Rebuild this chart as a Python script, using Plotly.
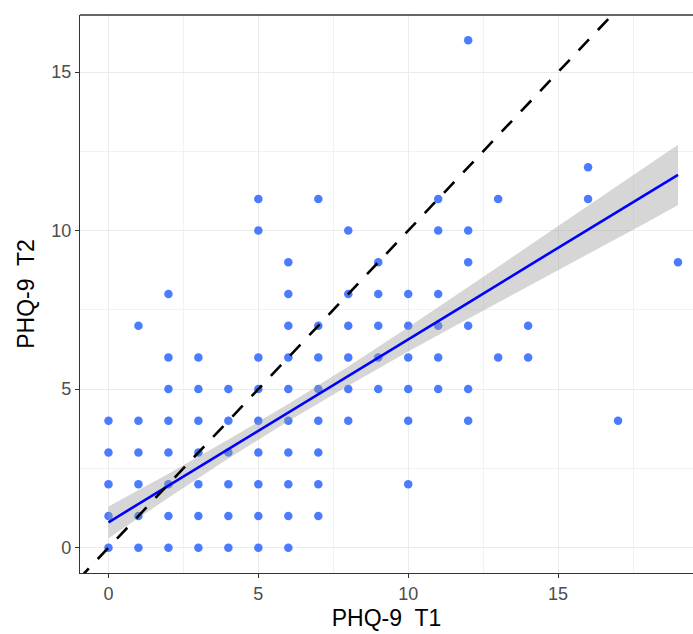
import plotly.graph_objects as go

# ---- data ----
t1 = [0, 0, 0, 0, 0,
      1, 1, 1, 1, 1, 1,
      2, 2, 2, 2, 2, 2, 2, 2,
      3, 3, 3, 3, 3, 3, 3,
      4, 4, 4, 4, 4, 4,
      5, 5, 5, 5, 5, 5, 5, 5, 5,
      6, 6, 6, 6, 6, 6, 6, 6, 6, 6,
      7, 7, 7, 7, 7, 7, 7, 7,
      8, 8, 8, 8, 8, 8,
      9, 9, 9, 9, 9,
      10, 10, 10, 10, 10, 10,
      11, 11, 11, 11, 11, 11,
      12, 12, 12, 12, 12, 12,
      13, 13,
      14, 14,
      16, 16,
      17,
      19]
t2 = [0, 1, 2, 3, 4,
      0, 1, 2, 3, 4, 7,
      0, 1, 2, 3, 4, 5, 6, 8,
      0, 1, 2, 3, 4, 5, 6,
      0, 1, 2, 3, 4, 5,
      0, 1, 2, 3, 4, 5, 6, 10, 11,
      0, 1, 2, 3, 4, 5, 6, 7, 8, 9,
      1, 2, 3, 4, 5, 6, 7, 11,
      4, 5, 6, 7, 8, 10,
      5, 6, 7, 8, 9,
      2, 4, 5, 6, 7, 8,
      5, 6, 7, 8, 10, 11,
      4, 5, 7, 9, 10, 16,
      6, 11,
      6, 7,
      11, 12,
      4,
      9]

fit_x = [0, 2, 4, 6, 8, 10, 12, 14, 16, 18, 19]
fit_y = [0.80, 1.95, 3.11, 4.26, 5.41, 6.57, 7.72, 8.88, 10.03, 11.18, 11.76]
band_lower = [0.30, 1.57, 2.81, 3.99, 5.11, 6.19, 7.22, 8.25, 9.26, 10.28, 10.81]
band_upper = [1.30, 2.33, 3.41, 4.53, 5.71, 6.95, 8.22, 9.51, 10.80, 12.08, 12.71]

identity_x = [-1, 20]
identity_y = [-1, 20]

x_ticks = [0, 5, 10, 15]
y_ticks = [0, 5, 10, 15]
x_minor = [2.5, 7.5, 12.5, 17.5]
y_minor = [2.5, 7.5, 12.5]

fig = go.Figure()
fig.add_trace(go.Scatter(x=t1, y=t2, mode="markers",
                         marker=dict(color="#4B7BFF", size=8.5, line=dict(width=0)),
                         showlegend=False, hoverinfo="x+y"))
fig.add_trace(go.Scatter(x=fit_x, y=band_lower, mode="lines",
                         line=dict(width=0), showlegend=False, hoverinfo="skip"))
fig.add_trace(go.Scatter(x=fit_x, y=band_upper, mode="lines", fill="tonexty",
                         fillcolor="rgba(153,153,153,0.4)",
                         line=dict(width=0), showlegend=False, hoverinfo="skip"))
fig.add_trace(go.Scatter(x=fit_x, y=fit_y, mode="lines",
                         line=dict(color="#0000FF", width=2.6),
                         showlegend=False))
fig.add_trace(go.Scatter(x=identity_x, y=identity_y, mode="lines",
                         line=dict(color="black", width=2.6, dash="15px,13px"),
                         showlegend=False, hoverinfo="skip"))

axis_common = dict(
    automargin=False,
    showgrid=True, gridcolor="#EBEBEB", gridwidth=1.3,
    zeroline=False, showline=True, linecolor="#333333", linewidth=1.3,
    mirror=False, ticks="outside", ticklen=4, tickcolor="#333333", tickwidth=1.2,
    tickfont=dict(family="Liberation Sans, Arial, sans-serif", size=18, color="#4D4D4D"),
)

fig.update_xaxes(range=[-0.95, 19.5], tickvals=x_ticks, ticktext=[str(v) for v in x_ticks],
                 minor=dict(tickvals=x_minor, showgrid=True, gridcolor="#F2F2F2", gridwidth=1, ticks=""),
                 title=dict(text="PHQ-9  T1", standoff=7,
                            font=dict(family="Liberation Sans, Arial, sans-serif", size=23, color="black")),
                 **axis_common)
fig.update_yaxes(range=[-0.8, 16.8], tickvals=y_ticks, ticktext=[str(v) for v in y_ticks],
                 minor=dict(tickvals=y_minor, showgrid=True, gridcolor="#F2F2F2", gridwidth=1, ticks=""),
                 title=dict(text="PHQ-9  T2", standoff=10,
                            font=dict(family="Liberation Sans, Arial, sans-serif", size=23, color="black")),
                 **axis_common)

fig.add_shape(type="line", xref="paper", yref="paper", x0=0, x1=1, y0=1, y1=1,
              line=dict(color="#333333", width=1.3), layer="above")

fig.update_layout(width=693, height=634,
                  margin=dict(l=80, r=0, t=15, b=61),
                  plot_bgcolor="white", paper_bgcolor="white",
                  showlegend=False)

fig.write_html("out.html",
               config={"displayModeBar": False},
               post_script="document.body.style.margin='0px';document.body.style.overflow='hidden';")
